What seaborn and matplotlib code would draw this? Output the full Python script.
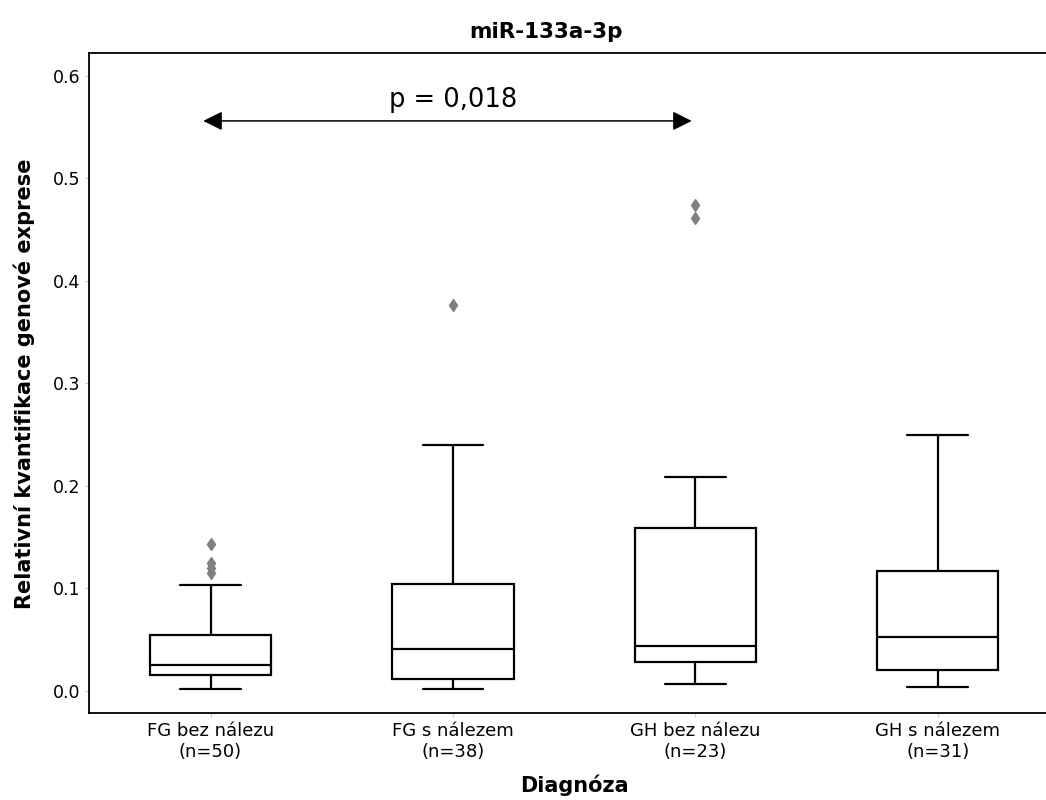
import matplotlib
matplotlib.use("Agg")
import matplotlib.pyplot as plt
import seaborn as sns
import pandas as pd

# Groups on the x axis
categories = ["FG bez nálezu", "FG s nálezem", "GH bez nálezu", "GH s nálezem"]
counts = [50, 38, 23, 31]

# Box summaries per group: whisker ends, quartiles and median
whisker_low = [0.0017, 0.0020, 0.0062, 0.0036]
q1 = [0.0150, 0.0114, 0.0278, 0.0205]
median = [0.0255, 0.0407, 0.0439, 0.0527]
q3 = [0.0545, 0.1041, 0.1590, 0.1164]
whisker_high = [0.1030, 0.2397, 0.2083, 0.2495]

# Points beyond the upper whisker
outliers = [
    [0.1145, 0.1195, 0.1250, 0.1431],
    [0.3766],
    [0.4615, 0.4741],
    [],
]

p_label = "p = 0,018"


def box_observations(lo, a, m, b, hi, extra):
    """Observations whose linear percentiles land on the given box summary."""
    k = len(extra) + 1
    return [lo] + [a] * k + [m] * k + [b] * k + [hi] + list(extra)


rows = []
for i, cat in enumerate(categories):
    label = f"{cat}\n(n={counts[i]})"
    for v in box_observations(whisker_low[i], q1[i], median[i], q3[i],
                              whisker_high[i], outliers[i]):
        rows.append({"Diagnóza": label, "value": v})
df = pd.DataFrame(rows)

sns.set_theme(style="ticks")
plt.rcParams["font.family"] = ["DejaVu Sans"]
plt.rcParams["text.color"] = "black"
plt.rcParams["axes.labelcolor"] = "black"
plt.rcParams["xtick.labelcolor"] = "black"
plt.rcParams["ytick.labelcolor"] = "black"

fig = plt.figure(figsize=(10.46, 8), dpi=100)
ax = fig.add_axes([0.0854, 0.1084, 0.927, 0.825])

sns.boxplot(
    data=df, x="Diagnóza", y="value", ax=ax,
    color="white", linecolor="black", linewidth=1.6, width=0.5,
    whis=1.5,
    flierprops=dict(marker="d", markerfacecolor="gray", markeredgecolor="gray",
                    markersize=6),
)

ax.set_xlim(-0.5, 3.5)
ax.set_ylim(-0.022, 0.622)
ax.set_yticks([0.0, 0.1, 0.2, 0.3, 0.4, 0.5, 0.6])
ax.set_yticklabels([f"{t:.1f}" for t in [0.0, 0.1, 0.2, 0.3, 0.4, 0.5, 0.6]])

for s in ax.spines.values():
    s.set_color("black")
    s.set_linewidth(1.3)

ax.tick_params(axis="both", length=3, width=0.8, color="0.8", labelsize=12.5,
               labelcolor="black")
ax.tick_params(axis="x", labelsize=13)

ax.set_xlabel("Diagnóza", fontsize=15, fontweight="bold", labelpad=10,
              color="black")
ax.set_ylabel("Relativní kvantifikace genové exprese", fontsize=15,
              fontweight="bold", labelpad=13, color="black")
ax.set_title("miR-133a-3p", fontsize=15.5, fontweight="bold", x=0.471, pad=11,
             color="black")

# Significance bracket between the first and third group
ax.annotate(
    "", xy=(1.985, 0.556), xytext=(-0.03, 0.556),
    arrowprops=dict(arrowstyle="<|-|>,head_length=0.4,head_width=0.2",
                    mutation_scale=29, color="black", lw=1.1,
                    shrinkA=0, shrinkB=0),
)
ax.text(1, 0.570, p_label, ha="center", va="baseline", fontsize=18.5,
        color="black")

fig.savefig("out.png", dpi=100)
